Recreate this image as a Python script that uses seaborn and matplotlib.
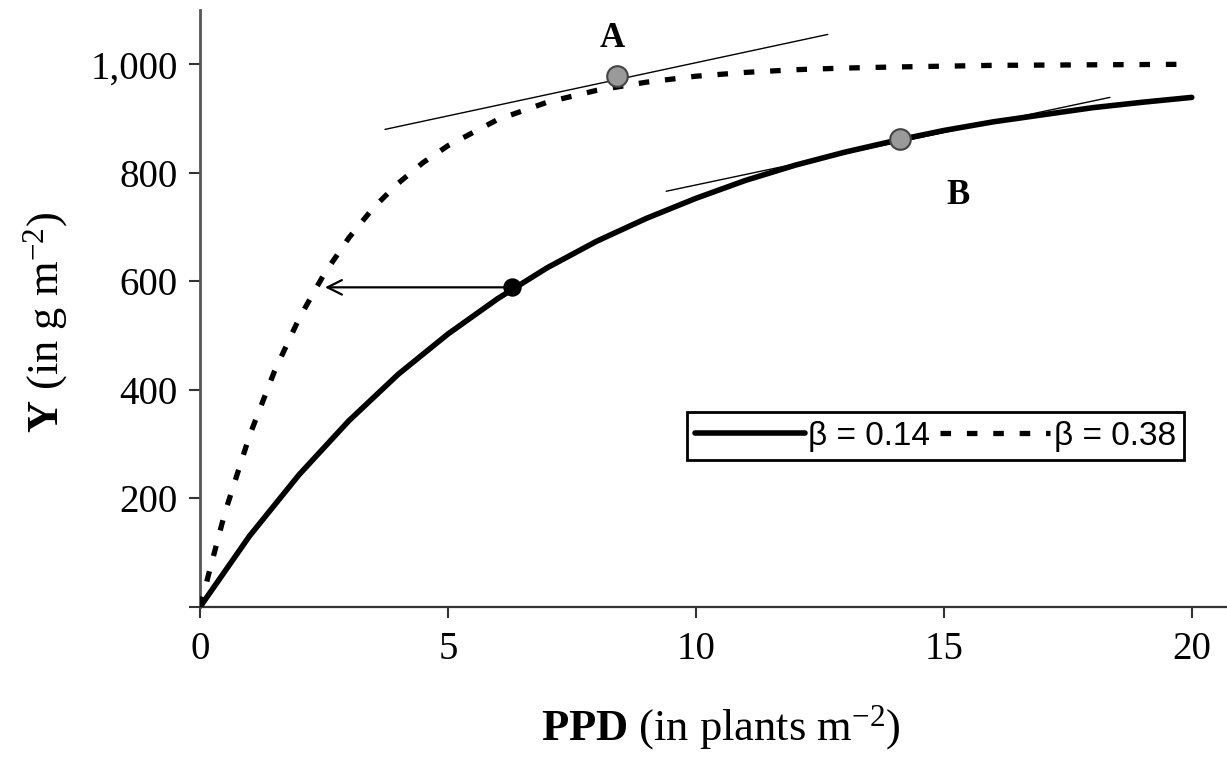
import matplotlib
matplotlib.use("Agg")
import matplotlib.pyplot as plt
import seaborn as sns
import pandas as pd

# ---- data ----
ppd_low = [0, 1, 2, 3, 4, 5, 6, 7, 8, 9, 10, 11, 12, 13, 14, 15, 16, 17, 18, 19, 20]
yield_low = [0, 131, 244, 343, 429, 503, 568, 625, 674, 716, 753, 786, 814, 838,
             859, 878, 894, 907, 920, 930, 939]

ppd_high = [0, 0.5, 1, 1.5, 2, 2.5, 3, 3.5, 4, 4.5, 5, 6, 7, 8, 9, 10, 11, 12, 13,
            14, 16, 18, 20]
yield_high = [0, 173, 316, 434, 532, 613, 680, 736, 781, 819, 850, 898, 930, 952,
              967, 978, 985, 990, 993, 995, 998, 999, 1000]

tangent_a_x = [3.73, 12.66]
tangent_a_y = [880, 1055]
tangent_b_x = [9.40, 18.35]
tangent_b_y = [766, 939]

point_ab_x = [8.41, 14.11]
point_ab_y = [978, 863]
dot_x = [6.29]
dot_y = [589]
arrow_end_x = 2.52

label_a = ("A", 8.31, 1048)
label_b = ("B", 15.28, 759)

series_labels = ["β = 0.14", "β = 0.38"]
x_ticks = [0, 5, 10, 15, 20]
y_ticks = [0, 200, 400, 600, 800, 1000]
y_tick_labels = ["", "200", "400", "600", "800", "1,000"]

# ---- style ----
sns.set_theme(style="white")
plt.rcParams["font.family"] = ["Liberation Serif", "DejaVu Serif"]
plt.rcParams["text.color"] = "black"
plt.rcParams["axes.labelcolor"] = "black"
plt.rcParams["xtick.color"] = "black"
plt.rcParams["ytick.color"] = "black"
plt.rcParams["mathtext.fontset"] = "custom"
plt.rcParams["mathtext.rm"] = "Liberation Serif"
plt.rcParams["mathtext.it"] = "Liberation Serif:italic"
plt.rcParams["mathtext.bf"] = "Liberation Serif:bold"

fig = plt.figure(figsize=(12.27, 7.65), dpi=100)
ax = fig.add_axes([200 / 1227, (765 - 607) / 765, 1027 / 1227, 597 / 765])

low_df = pd.DataFrame({"PPD": ppd_low, "Y": yield_low})
high_df = pd.DataFrame({"PPD": ppd_high, "Y": yield_high})

sns.lineplot(data=low_df, x="PPD", y="Y", ax=ax, color="black", lw=4,
             label=series_labels[0], sort=False, estimator=None, zorder=3)
sns.lineplot(data=high_df, x="PPD", y="Y", ax=ax, color="black", lw=3.8,
             label=series_labels[1], sort=False, estimator=None, zorder=3)
ax.lines[-1].set_dashes([2, 3])
ax.lines[-1].set_dash_capstyle("butt")

# tangent lines
sns.lineplot(x=tangent_a_x, y=tangent_a_y, ax=ax, color="black", lw=1.0, zorder=4)
sns.lineplot(x=tangent_b_x, y=tangent_b_y, ax=ax, color="black", lw=1.0, zorder=4)

# arrow
ax.annotate("", xy=(arrow_end_x, dot_y[0]), xytext=(dot_x[0], dot_y[0]),
            arrowprops=dict(arrowstyle="->", lw=1.6, color="black",
                            mutation_scale=26, shrinkA=0, shrinkB=0), zorder=5)

# markers
sns.scatterplot(x=point_ab_x, y=point_ab_y, ax=ax, s=220, color="#9a9a9a",
                edgecolor="#444444", linewidth=1.5, zorder=6)
sns.scatterplot(x=dot_x, y=dot_y, ax=ax, s=150, color="black",
                edgecolor="black", linewidth=1, zorder=6)

for txt, tx, ty in (label_a, label_b):
    ax.text(tx, ty, txt, fontsize=25, fontweight="bold", ha="center", va="center",
            color="black")

ax.set_xlim(0, 20.71)
ax.set_ylim(0, 1100)
ax.set_xticks(x_ticks)
ax.set_xticklabels([str(t) for t in x_ticks])
ax.set_yticks(y_ticks)
ax.set_yticklabels(y_tick_labels)
ax.tick_params(axis="both", direction="out", length=8, width=1.5, labelsize=28,
               color="#333333", labelcolor="black")
ax.tick_params(axis="x", pad=9, bottom=True)
ax.tick_params(axis="y", pad=8, left=True)
ax.set_xlabel("")
ax.set_ylabel("")

for s in ("top", "right"):
    ax.spines[s].set_visible(False)
ax.spines["left"].set_color("#555555")
ax.spines["left"].set_linewidth(2)
ax.spines["bottom"].set_color("#333333")
ax.spines["bottom"].set_linewidth(1.6)

handles, labels = ax.get_legend_handles_labels()
leg = ax.legend(handles[:2], labels[:2], ncol=2, loc="center",
                bbox_to_anchor=(0.716, 0.286), frameon=True, fancybox=False,
                edgecolor="black", framealpha=1, handlelength=3.3,
                handletextpad=0.1, columnspacing=0.3, borderpad=0.25,
                prop={"family": "Liberation Sans", "size": 24})
leg.get_frame().set_linewidth(2)
for t in leg.get_texts():
    t.set_color("black")

fig.text(721 / 1227, 1 - 728 / 765, r"$\mathbf{PPD}$ (in plants m$^{-2}$)",
         fontsize=32, ha="center", va="center", color="black")
fig.text(46 / 1227, 1 - 322 / 765, r"$\mathbf{Y}$ (in g m$^{-2}$)",
         fontsize=32, ha="center", va="center", rotation=90, color="black")

fig.savefig("out.png", dpi=100)
